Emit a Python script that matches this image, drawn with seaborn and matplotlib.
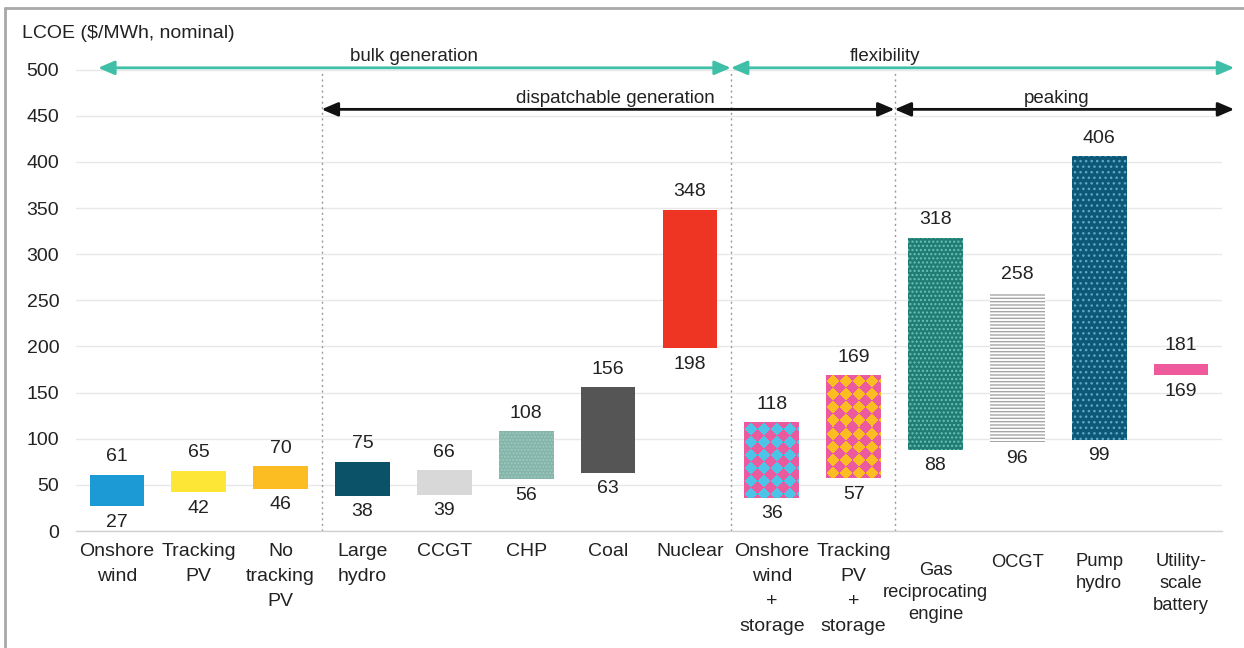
import numpy as np
import pandas as pd
import matplotlib
matplotlib.use("Agg")
import matplotlib.pyplot as plt
import seaborn as sns
from matplotlib.lines import Line2D

# ---------------- data ----------------
categories = ["Onshore\nwind", "Tracking\nPV", "No\ntracking\nPV", "Large\nhydro", "CCGT", "CHP",
              "Coal", "Nuclear", "Onshore\nwind\n+\nstorage", "Tracking\nPV\n+\nstorage",
              "Gas\nreciprocating\nengine", "OCGT", "Pump\nhydro", "Utility-\nscale\nbattery"]
low_values = [27, 42, 46, 38, 39, 56, 63, 198, 36, 57, 88, 96, 99, 169]
high_values = [61, 65, 70, 75, 66, 108, 156, 348, 118, 169, 318, 258, 406, 181]
y_ticks = [0, 50, 100, 150, 200, 250, 300, 350, 400, 450, 500]
y_label = "LCOE ($/MWh, nominal)"
group_labels = ["bulk generation", "flexibility", "dispatchable generation", "peaking"]

# ---------------- style ----------------
bar_colors = ["#1b9ad6", "#fde636", "#fbbd22", "#0b5168", "#d8d8d8", "#84b4aa", "#555555",
              "#ee3423", "#4ec3e8", "#fbbd22", "#1f7d73", "#ffffff", "#0e5877", "#ef5a9c"]
hatches = [None, None, None, None, None, ".....", None, None, "DIAMOND", "DIAMOND",
           "....", "-----", "...", None]
hatch_colors = [None, None, None, None, None, "#9ccabf", None, None, "#eb5a9e", "#eb5a9e",
                "#6cc2b5", "#a5a5a5", "#5aaac6", None]
label_drop_px = [12] * 10 + [31, 23, 22, 22]
label_spacing = [1.62] * 10 + [1.40] * 4
label_size = [14] * 10 + [13.2] * 4

sns.set_theme(style="white")
plt.rcParams["font.family"] = ["Liberation Sans", "DejaVu Sans"]
plt.rcParams["hatch.linewidth"] = 1.0
FS = 14
TXT = "#222222"

W, H = 1244, 648
fig = plt.figure(figsize=(W / 100, H / 100), dpi=100)
ax = fig.add_axes([76 / W, 117 / H, 1146 / W, 489 / H])

df = pd.DataFrame({"cat": categories, "lo": low_values, "hi": high_values})
df["span"] = df["hi"] - df["lo"]

sns.barplot(data=df, x="cat", y="span", hue="cat", palette=bar_colors, legend=False,
            width=0.67, saturation=1, ax=ax, zorder=3)

XMIN, XMAX, YMIN, YMAX = -0.5, 13.5, 0, 530
ax.set_xlim(XMIN, XMAX)
ax.set_ylim(YMIN, YMAX)

bars = list(ax.patches)
for p, lo, hc, hcol in zip(bars, df["lo"], hatches, hatch_colors):
    p.set_y(lo)
    p.set_linewidth(0)
    if hc and hc != "DIAMOND":
        p.set_edgecolor(hcol)
        p.set_hatch(hc)
        p.set_linewidth(0)

# diamond (rotated checkerboard) fill for storage bars
for p, hc, hcol, base in zip(bars, hatches, hatch_colors, bar_colors):
    if hc != "DIAMOND":
        continue
    bb = p.get_window_extent()
    w_px, h_px = int(round(bb.width)), int(round(bb.height))
    jj, ii = np.meshgrid(np.arange(w_px), np.arange(h_px))
    s = 13.0
    xx = jj + 6.5
    yy = ii + 0.0
    mask = (np.floor((xx + yy) / s) + np.floor((xx - yy) / s)) % 2 == 0
    c1 = np.array(matplotlib.colors.to_rgb(base))
    c2 = np.array(matplotlib.colors.to_rgb(hcol))
    img = np.where(mask[..., None], c2, c1)
    x0, y0 = p.get_x(), p.get_y()
    im = ax.imshow(img, extent=(x0, x0 + p.get_width(), y0, y0 + p.get_height()),
                   origin="upper", aspect="auto", interpolation="nearest", zorder=3.5)
    im.set_clip_path(p)

ax.set_xlim(XMIN, XMAX)
ax.set_ylim(YMIN, YMAX)
ax.set_aspect("auto")

# value labels
for i, (lo, hi) in enumerate(zip(df["lo"], df["hi"])):
    ax.annotate(str(hi), (i, hi), xytext=(0, 13), textcoords="offset points",
                ha="center", va="center", fontsize=FS, color=TXT, zorder=5)
    ax.annotate(str(lo), (i, lo), xytext=(0, -11.5), textcoords="offset points",
                ha="center", va="center", fontsize=FS, color=TXT, zorder=5)

# axes styling
ax.set_yticks(y_ticks)
ax.set_yticklabels([str(v) for v in y_ticks], fontsize=FS, color=TXT)
ax.tick_params(axis="y", length=0, pad=12)
ax.yaxis.grid(True, color="#e8e8e8", lw=1, zorder=0)
ax.xaxis.grid(False)
ax.set_xticks([])
ax.set_xticks(np.arange(-0.5, 14, 1), minor=True)
ax.tick_params(axis="x", which="minor", length=5, color="#d0d0d0", width=1, direction="out")
for side in ["left", "right", "top"]:
    ax.spines[side].set_visible(False)
ax.spines["bottom"].set_color("#d0d0d0")
ax.spines["bottom"].set_linewidth(1)
ax.set_xlabel("")
ax.set_ylabel("")

# category labels
for i, (lab, drop, ls, fs) in enumerate(zip(categories, label_drop_px, label_spacing, label_size)):
    ax.annotate(lab, (i, 0), xytext=(0, -drop * 0.72), textcoords="offset points",
                ha="center", va="top", fontsize=fs, color=TXT, linespacing=ls,
                annotation_clip=False)

# dotted separators
for xb in [2.5, 7.5, 9.5]:
    ax.plot([xb, xb], [0, 497], color="#9a9a9a", lw=1, ls=(0, (1.5, 2.5)), zorder=2,
            clip_on=False)

# group arrows
teal = "#40bfa8"
def arrow(x0, x1, y, color):
    ax.annotate("", xy=(x1, y), xytext=(x0, y), xycoords="data", textcoords="data",
                arrowprops=dict(arrowstyle="<|-|>,head_length=0.7,head_width=0.3",
                                color=color, lw=2, shrinkA=0, shrinkB=0, mutation_scale=14),
                annotation_clip=False, zorder=6)

arrow(-0.23, 7.5, 502, teal)
arrow(7.5, 13.65, 502, teal)
arrow(2.5, 9.5, 457, "#111111")
arrow(9.5, 13.65, 457, "#111111")

ax.text(3.63, 514, group_labels[0], ha="center", va="center", fontsize=FS - 0.5, color=TXT)
ax.text(9.38, 514, group_labels[1], ha="center", va="center", fontsize=FS - 0.5, color=TXT)
ax.text(6.09, 469, group_labels[2], ha="center", va="center", fontsize=FS - 0.5, color=TXT)
ax.text(11.48, 469, group_labels[3], ha="center", va="center", fontsize=FS - 0.5, color=TXT)

# y-axis title
fig.text(22 / W, 1 - 33 / H, y_label, ha="left", va="center", fontsize=FS, color=TXT)

# frame
fig.add_artist(Line2D([5 / W, 5 / W], [0, 1 - 7.5 / H], transform=fig.transFigure,
                      color="#a8a8a8", lw=2))
fig.add_artist(Line2D([5 / W, 1], [1 - 7.5 / H, 1 - 7.5 / H], transform=fig.transFigure,
                      color="#a8a8a8", lw=2))

fig.savefig("out.png", dpi=100)
